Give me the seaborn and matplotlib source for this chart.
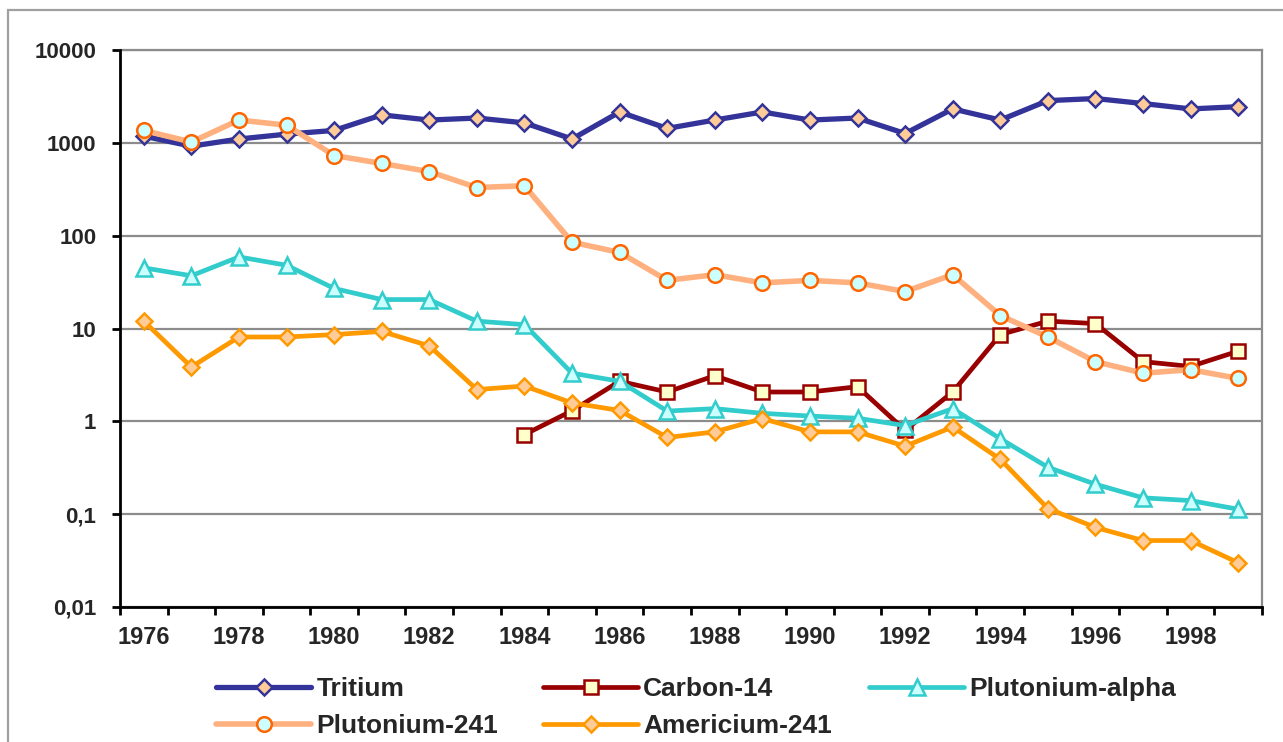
import numpy as np
import pandas as pd
import matplotlib
matplotlib.use("Agg")
import matplotlib.pyplot as plt
import seaborn as sns
from matplotlib.lines import Line2D
from matplotlib.patches import Rectangle
from matplotlib.ticker import FixedLocator, NullLocator

years = list(range(1976, 2000))

tritium = [1180, 920, 1100, 1240, 1360, 2000, 1760, 1850, 1640, 1100, 2150,
           1430, 1760, 2150, 1760, 1850, 1260, 2320, 1760, 2850, 3000, 2650,
           2320, 2450]
carbon14_years = list(range(1984, 2000))
carbon14 = [0.72, 1.3, 2.7, 2.07, 3.1, 2.07, 2.07, 2.36, 0.8, 2.07, 8.6, 12,
            11.3, 4.4, 3.9, 5.7]
pu_alpha = [45, 37, 59, 48, 27, 20.5, 20.5, 12, 11, 3.3, 2.7, 1.29, 1.37, 1.22,
            1.14, 1.08, 0.9, 1.37, 0.65, 0.32, 0.21, 0.15, 0.14, 0.113]
pu241 = [1360, 1020, 1760, 1550, 730, 600, 490, 330, 345, 85, 66, 33, 38, 31,
         33, 31, 25, 38, 13.8, 8.1, 4.4, 3.3, 3.6, 2.9]
am241 = [12, 3.85, 8.1, 8.1, 8.6, 9.3, 6.5, 2.2, 2.4, 1.58, 1.31, 0.67, 0.77,
         1.07, 0.77, 0.77, 0.54, 0.87, 0.39, 0.115, 0.072, 0.052, 0.052, 0.030]

y_ticks = [0.01, 0.1, 1, 10, 100, 1000, 10000]
y_tick_labels = ["0,01", "0,1", "1", "10", "100", "1000", "10000"]
x_tick_years = list(range(1976, 2000, 2))

# name, x, y, line colour, marker, face, edge, line width, marker size
series = [
    ("Tritium", years, tritium, "#333399", "D", "#FFCC99", "#333399", 3.8, 8.5),
    ("Carbon-14", carbon14_years, carbon14, "#990000", "s", "#FFFFCC", "#990000", 3.4, 10.5),
    ("Plutonium-alpha", years, pu_alpha, "#33CCCC", "^", "#CCFFFF", "#33CCCC", 3.4, 12),
    ("Plutonium-241", years, pu241, "#FFB07F", "o", "#CCFFFF", "#FF6600", 4.0, 10.5),
    ("Americium-241", years, am241, "#FF9900", "D", "#FFCC99", "#FF9900", 3.4, 8.5),
]

sns.set_style("white")
plt.rcParams["font.family"] = ["Liberation Sans", "DejaVu Sans"]
plt.rcParams["font.weight"] = "bold"

fig = plt.figure(figsize=(12.83, 7.42), dpi=100)
ax = fig.add_axes([120 / 1283, 1 - 607 / 742, (1262 - 120) / 1283, (607 - 50) / 742])

handles = {}
for name, xs, ys, lc, mk, fc, ec, lw, ms in series:
    df = pd.DataFrame({"year": xs, "value": ys})
    sns.lineplot(data=df, x="year", y="value", ax=ax, color=lc, linewidth=lw,
                 marker=mk, markersize=ms, markerfacecolor=fc,
                 markeredgecolor=ec, markeredgewidth=1.8, zorder=3)
    handles[name] = Line2D([], [], color=lc, linewidth=lw, marker=mk,
                           markersize=ms, markerfacecolor=fc,
                           markeredgecolor=ec, markeredgewidth=1.8)

ax.set_yscale("log")
ax.set_ylim(0.01, 10000)
ax.set_xlim(1975.5, 1999.5)
ax.yaxis.set_major_locator(FixedLocator(y_ticks))
ax.set_yticklabels(y_tick_labels)
ax.yaxis.set_minor_locator(NullLocator())
ax.set_xticks(x_tick_years)
ax.set_xticklabels([str(y) for y in x_tick_years])
ax.xaxis.set_minor_locator(FixedLocator(np.arange(1975.5, 2000, 1)))

ax.tick_params(axis="x", which="major", length=0, pad=14, labelsize=17)
ax.tick_params(axis="x", which="minor", length=6, width=2, color="black",
               direction="out", bottom=True)
ax.tick_params(axis="y", which="major", length=6, width=2, color="black",
               direction="out", left=True, pad=11, labelsize=16)
for lab in ax.get_xticklabels() + ax.get_yticklabels():
    lab.set_fontweight("bold")

ax.grid(True, axis="y", which="major", color="#8C8C8C", linewidth=1.6)
ax.grid(False, axis="x")
ax.set_axisbelow(True)
ax.set_xlabel("")
ax.set_ylabel("")

for side in ["left", "bottom"]:
    ax.spines[side].set_color("black")
    ax.spines[side].set_linewidth(2)
for side in ["right", "top"]:
    ax.spines[side].set_color("#8C8C8C")
    ax.spines[side].set_linewidth(1.6)
ax.spines["left"].set_zorder(5)
ax.spines["bottom"].set_zorder(5)

# outer chart frame
fig.patches.append(Rectangle((8 / 1283, -0.1), 1.2, (742 - 10) / 742 + 0.1,
                             transform=fig.transFigure, fill=False,
                             edgecolor="#A0A0A0", linewidth=1.6))

columns = [
    (216, ["Tritium", "Plutonium-241"]),
    (543, ["Carbon-14", "Americium-241"]),
    (869, ["Plutonium-alpha"]),
]
for x0, names in columns:
    leg = fig.legend([handles[n] for n in names], names,
                     loc="upper left", bbox_to_anchor=(x0 / 1283, 1 - 677 / 742),
                     frameon=False, borderpad=0, borderaxespad=0,
                     handlelength=3.6, handletextpad=0.2, labelspacing=0.5,
                     prop={"size": 19, "weight": "bold"})

fig.savefig("out.png", dpi=100)
